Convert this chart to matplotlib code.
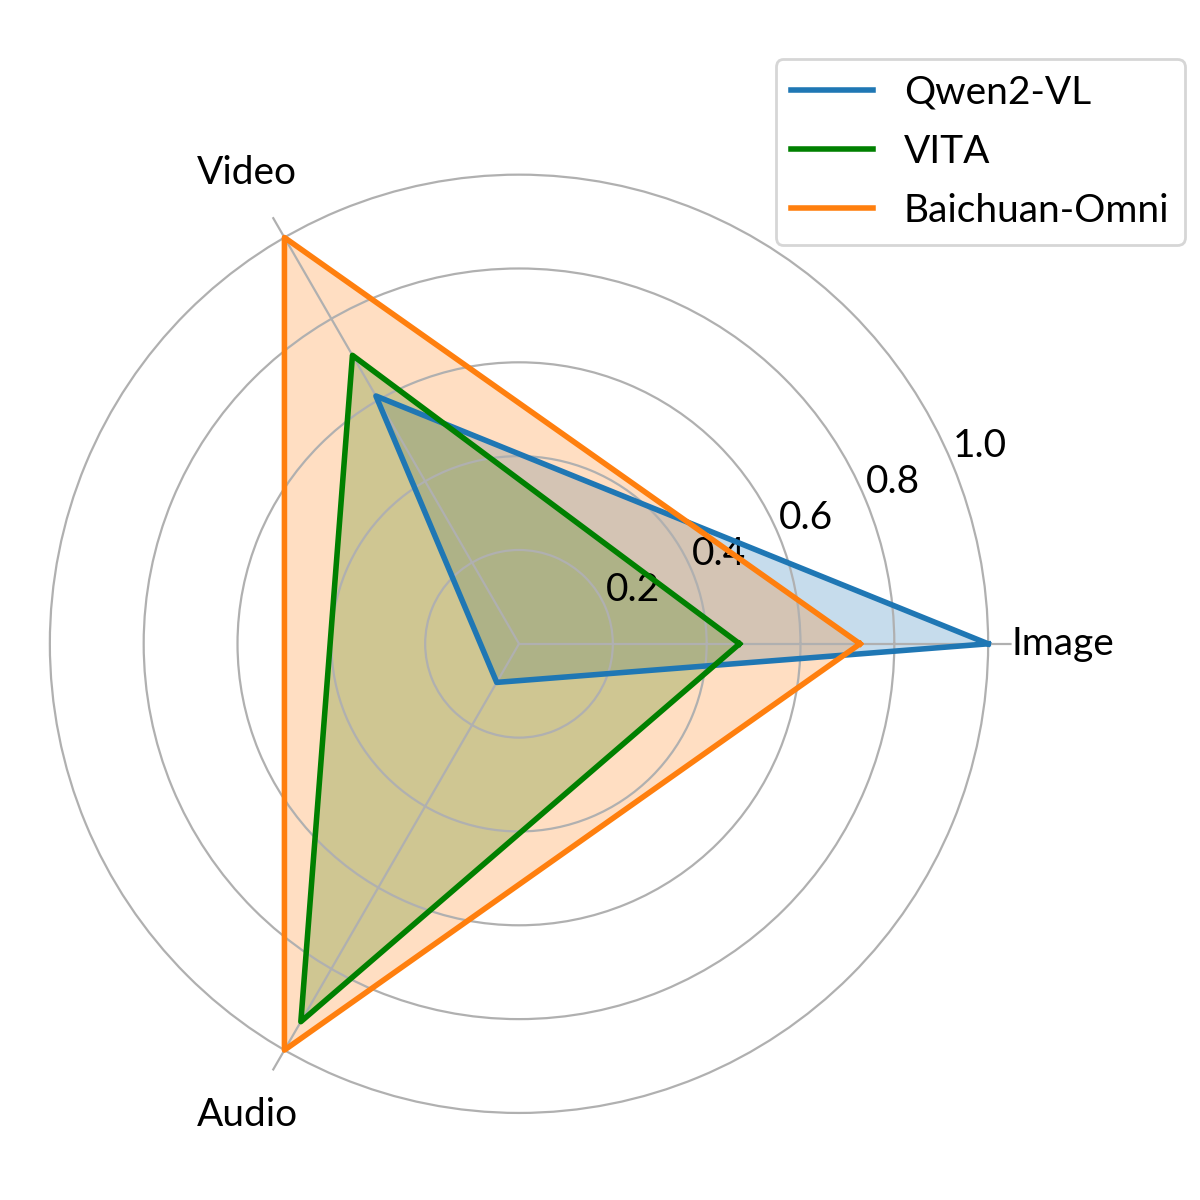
import numpy as np
import matplotlib.pyplot as plt

plt.rcParams['font.family'] = ['Lato', 'DejaVu Sans']

categories = ['Image', 'Video', 'Audio']
qwen2_vl = [1.0, 0.61, 0.095]
vita = [0.47, 0.71, 0.93]
baichuan_omni = [0.727, 1.0, 1.0]

series = [
    ('Qwen2-VL', qwen2_vl, '#1f77b4'),
    ('VITA', vita, 'green'),
    ('Baichuan-Omni', baichuan_omni, '#ff7f0e'),
]

angles = np.linspace(0, 2 * np.pi, len(categories), endpoint=False).tolist()
angles += angles[:1]

fig = plt.figure(figsize=(6, 6), dpi=200)
ax = fig.add_axes([0.022, 0.053, 0.821, 0.821], polar=True)

for name, vals, col in series:
    v = vals + vals[:1]
    ax.plot(angles, v, color=col, linewidth=2, label=name)
    ax.fill(angles, v, color=col, alpha=0.25)

ax.set_ylim(0, 1.05)
ax.set_yticks([0.2, 0.4, 0.6, 0.8, 1.0])
ax.set_yticklabels(['0.2', '0.4', '0.6', '0.8', '1.0'], fontsize=14)
ax.set_xticks(angles[:-1])
ax.set_xticklabels(categories, fontsize=14)
ax.tick_params(axis='x', pad=8)
ax.spines['polar'].set_visible(False)

fig.legend(loc='upper right', bbox_to_anchor=(0.9875, 0.951),
           bbox_transform=fig.transFigure, borderaxespad=0, fontsize=14,
           handlelength=2.1, labelspacing=0.6)

fig.savefig('out.png', dpi=200)
